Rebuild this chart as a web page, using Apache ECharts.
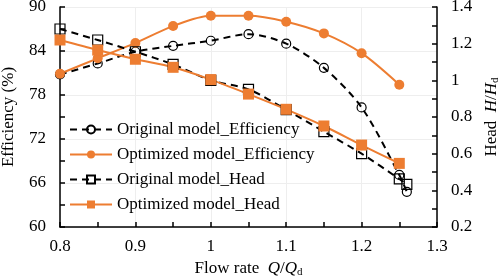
<!DOCTYPE html>
<html>
<head>
<meta charset="utf-8">
<script src="https://cdn.jsdelivr.net/npm/echarts@6/dist/echarts.min.js"></script>
<style>
  html, body { margin: 0; padding: 0; background: #fff; }
  #chart { width: 498px; height: 276px; }
</style>
</head>
<body>
<div id="chart"></div>
<script>
var flowOpt = [0.8, 0.85, 0.9, 0.95, 1.0, 1.05, 1.1, 1.15, 1.2, 1.25];
var flowOrig = [0.8, 0.85, 0.9, 0.95, 1.0, 1.05, 1.1, 1.15, 1.2, 1.25, 1.26];
var origEff = [80.8, 82.3, 83.9, 84.7, 85.4, 86.3, 85.0, 81.7, 76.3, 67.1, 64.8];
var optEff = [80.9, 83.0, 85.1, 87.4, 88.8, 88.8, 88.0, 86.4, 83.7, 79.4];
var origHead = [1.28, 1.22, 1.156, 1.087, 1.0, 0.951, 0.84, 0.72, 0.60, 0.462, 0.433];
var optHead = [1.22, 1.165, 1.115, 1.071, 1.004, 0.925, 0.842, 0.751, 0.647, 0.547];

var ORANGE = '#ED7D31';
var FONT = "'Liberation Serif', 'Times New Roman', serif";

function pairs(xs, ys) {
    return ys.map(function (v, i) { return [xs[i], v]; });
}

var chart = echarts.init(document.getElementById('chart'), null, { renderer: 'canvas' });

var axisCommon = {
    axisLine: { show: true, lineStyle: { color: '#000', width: 1.5 } },
    axisTick: { show: true, inside: true, length: 5, lineStyle: { color: '#000', width: 1.5 } },
    minorTick: { show: true, splitNumber: 2, length: 5, lineStyle: { color: '#000', width: 1.5 } },
    axisLabel: { color: '#000', fontSize: 17, fontFamily: FONT },
    nameTextStyle: { color: '#000', fontSize: 17, fontFamily: FONT },
    splitLine: { show: true, lineStyle: { color: '#eeeeee', width: 1 } }
};

var nameRich = {
    i: { fontStyle: 'italic', fontSize: 17, fontFamily: FONT, color: '#000' },
    sub: { fontSize: 11, fontFamily: FONT, color: '#000', padding: [7, 0, 0, 0] }
};

chart.setOption({
    animation: false,
    backgroundColor: '#fff',
    textStyle: { fontFamily: FONT },
    grid: { left: 60, right: 61, top: 7, bottom: 49, outerBoundsMode: 'none', containLabel: false },
    legend: {
        orient: 'vertical',
        left: 64,
        top: 116,
        itemWidth: 42,
        itemHeight: 10,
        itemGap: 8,
        textStyle: { color: '#000', fontSize: 17, fontFamily: FONT },
        data: ['Original model_Efficiency', 'Optimized model_Efficiency', 'Original model_Head', 'Optimized model_Head']
    },
    xAxis: Object.assign({}, axisCommon, {
        type: 'value',
        min: 0.8,
        max: 1.3,
        interval: 0.1,
        name: 'Flow rate  {i|Q}/{i|Q}{sub|d}',
        nameLocation: 'middle',
        nameGap: 27,
        nameTextStyle: Object.assign({}, axisCommon.nameTextStyle, { rich: nameRich }),
        axisLabel: Object.assign({}, axisCommon.axisLabel, { margin: 11 })
    }),
    yAxis: [
        Object.assign({}, axisCommon, {
            type: 'value',
            min: 60,
            max: 90,
            interval: 6,
            name: 'Efficiency (%)',
            nameLocation: 'middle',
            nameRotate: 90,
            nameGap: 43,
            axisLabel: Object.assign({}, axisCommon.axisLabel, { margin: 14 })
        }),
        Object.assign({}, axisCommon, {
            type: 'value',
            position: 'right',
            min: 0.2,
            max: 1.4,
            interval: 0.2,
            name: 'Head  {i|H}/{i|H}{sub|d}',
            nameLocation: 'middle',
            nameRotate: 90,
            nameGap: 42,
            nameTextStyle: Object.assign({}, axisCommon.nameTextStyle, { rich: nameRich }),
            splitLine: { show: false },
            axisLabel: Object.assign({}, axisCommon.axisLabel, { margin: 14 })
        })
    ],
    series: [
        {
            name: 'Original model_Efficiency',
            type: 'line',
            yAxisIndex: 0,
            data: pairs(flowOrig, origEff),
            smooth: 0.3,
            symbol: 'circle',
            symbolSize: 9,
            itemStyle: { color: 'rgba(255,255,255,0)', borderColor: '#000', borderWidth: 1.2 },
            lineStyle: { color: '#000', width: 2, type: [7, 5] }
        },
        {
            name: 'Optimized model_Efficiency',
            type: 'line',
            yAxisIndex: 0,
            data: pairs(flowOpt, optEff),
            smooth: 0.3,
            symbol: 'circle',
            symbolSize: 10,
            itemStyle: { color: ORANGE },
            lineStyle: { color: ORANGE, width: 2 }
        },
        {
            name: 'Original model_Head',
            type: 'line',
            yAxisIndex: 1,
            data: pairs(flowOrig, origHead),
            smooth: 0.3,
            symbol: 'rect',
            symbolSize: 10,
            itemStyle: { color: 'rgba(255,255,255,0)', borderColor: '#000', borderWidth: 1.2 },
            lineStyle: { color: '#000', width: 2, type: [7, 5] }
        },
        {
            name: 'Optimized model_Head',
            type: 'line',
            yAxisIndex: 1,
            data: pairs(flowOpt, optHead),
            smooth: 0.3,
            symbol: 'rect',
            symbolSize: 11,
            itemStyle: { color: ORANGE },
            lineStyle: { color: ORANGE, width: 2 }
        }
    ]
});
</script>
</body>
</html>
